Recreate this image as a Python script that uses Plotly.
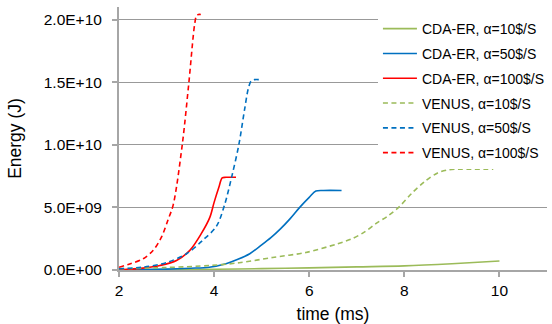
import plotly.graph_objects as go

# ---- data ----
cda10_t = [2, 3, 4, 5, 6, 7, 8, 9, 10]
cda10_e = [0.0, 0.03e9, 0.06e9, 0.11e9, 0.17e9, 0.25e9, 0.33e9, 0.5e9, 0.72e9]

cda50_t = [2, 2.5, 3, 3.5, 3.9, 4.25, 4.5, 4.75, 5.0, 5.2, 5.4, 5.6, 5.8, 6.0, 6.14, 6.3, 6.68]
cda50_e = [0, 0.03e9, 0.07e9, 0.14e9, 0.22e9, 0.5e9, 0.85e9, 1.3e9, 2.0e9, 2.6e9, 3.3e9, 4.1e9, 5.0e9, 5.8e9, 6.3e9, 6.35e9, 6.35e9]

cda100_t = [2, 2.5, 2.86, 3.21, 3.49, 3.73, 3.91, 4.0, 4.1, 4.17, 4.25, 4.46]
cda100_e = [0, 0.15e9, 0.36e9, 0.76e9, 1.57e9, 2.9e9, 4.2e9, 5.4e9, 6.6e9, 7.35e9, 7.4e9, 7.4e9]

ven10_t = [2, 3, 3.91, 4.53, 5.23, 5.93, 6.6, 6.9, 7.15, 7.4, 7.65, 7.88, 8.15, 8.44, 8.7, 8.93, 9.2, 9.87]
ven10_e = [0.1e9, 0.2e9, 0.36e9, 0.58e9, 1.0e9, 1.4e9, 2.1e9, 2.5e9, 3.0e9, 3.7e9, 4.3e9, 5.0e9, 6.1e9, 7.1e9, 7.75e9, 8.0e9, 8.05e9, 8.05e9]

ven50_t = [2, 2.51, 3.0, 3.42, 3.77, 4.05, 4.22, 4.38, 4.52, 4.64, 4.72, 4.78, 4.85, 4.95]
ven50_e = [0.1e9, 0.23e9, 0.6e9, 1.3e9, 2.4e9, 3.5e9, 5.2e9, 7.6e9, 10e9, 12.8e9, 14.5e9, 15.1e9, 15.2e9, 15.2e9]

ven100_t = [2, 2.24, 2.51, 2.72, 2.89, 3.03, 3.14, 3.33, 3.47, 3.59, 3.63, 3.67, 3.72]
ven100_e = [0.22e9, 0.5e9, 0.9e9, 1.57e9, 2.6e9, 4.0e9, 5.2e9, 10e9, 15e9, 19.6e9, 20.3e9, 20.4e9, 20.4e9]

names = ["CDA-ER, α=10$/S", "CDA-ER, α=50$/S", "CDA-ER, α=100$/S",
         "VENUS, α=10$/S", "VENUS, α=50$/S", "VENUS, α=100$/S"]

y_ticks = [0, 5e9, 1e10, 1.5e10, 2e10]
y_tick_labels = ["0.0E+00", "5.0E+09", "1.0E+10", "1.5E+10", "2.0E+10"]
x_ticks = [2, 4, 6, 8, 10]

GREEN = "#9BBB59"
BLUE = "#0070C0"
RED = "#FF0000"
DASH = "5px,3.5px"

series = [
    (cda10_t, cda10_e, GREEN, "solid"),
    (cda50_t, cda50_e, BLUE, "solid"),
    (cda100_t, cda100_e, RED, "solid"),
    (ven10_t, ven10_e, GREEN, DASH),
    (ven50_t, ven50_e, BLUE, DASH),
    (ven100_t, ven100_e, RED, DASH),
]

fig = go.Figure()
for i, ((t, e, c, d), n) in enumerate(zip(series, names)):
    fig.add_trace(go.Scatter(
        x=t, y=e, mode="lines", name=n, legendgroup=f"g{i}",
        line=dict(color=c, width=1.6, dash=d, shape="spline", smoothing=0.9),
    ))

FONT = "Liberation Sans, Arial, sans-serif"
fig.update_layout(
    width=552, height=324,
    margin=dict(l=119, r=5, t=7, b=54, autoexpand=False),
    paper_bgcolor="white", plot_bgcolor="white",
    font=dict(family=FONT, color="#000000", size=15),
    showlegend=True,
    legend=dict(
        x=0.605, y=0.977, xanchor="left", yanchor="top",
        bgcolor="white", borderwidth=0,
        font=dict(family=FONT, size=14, color="#000000"),
        tracegroupgap=3.6, itemwidth=34,
    ),
    xaxis=dict(
        range=[2, 11], tickvals=x_ticks, ticktext=[str(v) for v in x_ticks],
        showgrid=False, zeroline=False, automargin=False,
        showline=True, linecolor="#A6A6A6", linewidth=2,
        ticks="outside", ticklen=5, tickcolor="#A6A6A6", tickwidth=1.5,
        tickfont=dict(size=15.5),
        title=dict(text="time (ms)", font=dict(size=17.5), standoff=13),
    ),
    yaxis=dict(
        range=[0, 2.1e10], tickvals=y_ticks, ticktext=y_tick_labels,
        showgrid=True, gridcolor="#999999", gridwidth=1,
        zeroline=False, automargin=False,
        showline=True, linecolor="#A6A6A6", linewidth=2,
        ticks="outside", ticklen=5, tickcolor="#A6A6A6", tickwidth=1.5,
        ticklabelstandoff=7,
        tickfont=dict(size=15.5),
        title=dict(text="Energy (J)", font=dict(size=17.5), standoff=18),
    ),
)

fig.write_html("out.html", config={"displayModeBar": False},
               post_script="document.body.style.margin='0';")
